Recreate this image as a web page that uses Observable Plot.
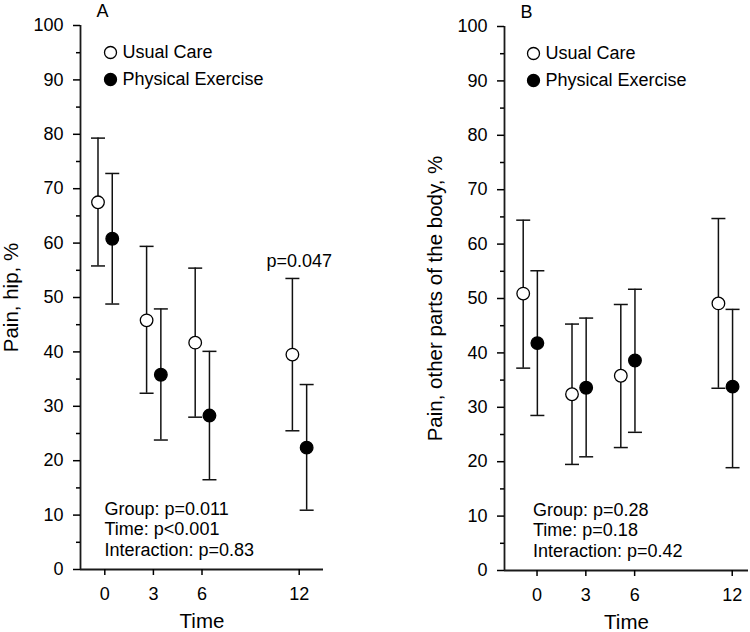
<!DOCTYPE html>
<html><head><meta charset="utf-8">
<script src="https://cdn.jsdelivr.net/npm/d3@7"></script>
<script src="https://cdn.jsdelivr.net/npm/@observablehq/plot@0.6"></script>
<style>
html,body{margin:0;padding:0;background:#fff;}
#row{display:flex;width:750px;height:632px;overflow:hidden;}
#row svg{display:block;flex:none;}
#row svg text{font-size:18px;}
#row svg g[aria-label="x-axis label"] text,
#row svg g[aria-label="y-axis label"] text{font-size:20.5px;}
</style></head><body><div id="row"></div>
<script>
// ---- data ----
const times = [0, 3, 6, 12];
const groups = ["Usual Care", "Physical Exercise"];
const yMajorTicks = [0, 10, 20, 30, 40, 50, 60, 70, 80, 90, 100];
const yMinorTicks = [5, 15, 25, 35, 45, 55, 65, 75, 85, 95];

// Panel A: Pain, hip (%)
const hipUCMean = [67.5, 45.8, 41.7, 39.5];
const hipUCLow  = [55.8, 32.4, 28.0, 25.5];
const hipUCHigh = [79.3, 59.4, 55.4, 53.5];
const hipPEMean = [60.8, 35.8, 28.3, 22.4];
const hipPELow  = [48.8, 23.8, 16.5, 10.9];
const hipPEHigh = [72.8, 47.9, 40.1, 34.0];
const hipStats = ["Group: p=0.011", "Time: p<0.001", "Interaction: p=0.83"];
const hipNote = [{time: 12, value: 56.6, label: "p=0.047"}];

// Panel B: Pain, other parts of the body (%)
const otherUCMean = [50.9, 32.4, 35.8, 49.1];
const otherUCLow  = [37.2, 19.5, 22.6, 33.5];
const otherUCHigh = [64.4, 45.3, 48.9, 64.7];
const otherPEMean = [41.8, 33.6, 38.6, 33.8];
const otherPELow  = [28.5, 20.9, 25.4, 18.9];
const otherPEHigh = [55.1, 46.4, 51.7, 48.0];
const otherStats = ["Group: p=0.28", "Time: p=0.18", "Interaction: p=0.42"];

// ---- drawing ----
const FONT = "'Liberation Sans', Arial, Helvetica, sans-serif";
const capSymbol = {draw(ctx) { ctx.moveTo(-7, 0); ctx.lineTo(7, 0); }};

function buildRows(series) {
  const rows = [];
  series.forEach(({group, mean, low, high}) => {
    times.forEach((t, i) => rows.push({time: t, group, mean: mean[i], low: low[i], high: high[i]}));
  });
  return rows;
}

function panel(cfg) {
  const rows = buildRows(cfg.series);
  const xOf = d => d.time + cfg.offset[d.group];
  const marks = [
    Plot.ruleX([cfg.xDomain[0]], {stroke: "#1a1a1a", strokeWidth: 1.8}),
    Plot.ruleY([0], {stroke: "#1a1a1a", strokeWidth: 1.8}),
    Plot.axisY({ticks: yMajorTicks, tickSize: 7, tickPadding: 10, strokeWidth: 1.5, fontSize: 18,
      label: cfg.yLabel, labelAnchor: "center", labelArrow: "none", labelOffset: 77, fill: "black"}),
    Plot.axisY({ticks: yMinorTicks, tickSize: 4, tickFormat: () => "", label: null, strokeWidth: 1.5}),
    Plot.axisX({ticks: times, tickSize: 6, tickPadding: 12, strokeWidth: 1.5, fontSize: 18,
      label: "Time", labelAnchor: "center", labelArrow: "none", labelOffset: 58, fill: "black"}),
    // error bars
    Plot.ruleX(rows, {x: xOf, y1: "low", y2: "high", stroke: "#111", strokeWidth: 1.5}),
    Plot.dot(rows, {x: xOf, y: "low", symbol: capSymbol, r: 7, stroke: "#111", strokeWidth: 1.5, fill: "none"}),
    Plot.dot(rows, {x: xOf, y: "high", symbol: capSymbol, r: 7, stroke: "#111", strokeWidth: 1.5, fill: "none"}),
    // means
    Plot.dot(rows, {x: xOf, y: "mean", r: 6.3, stroke: "black", strokeWidth: 1.3,
      fill: d => d.group === groups[0] ? "white" : "black"}),
    // panel letter
    Plot.text([cfg.letter], {frameAnchor: "top-left", dx: 22, dy: -14.5, lineAnchor: "middle",
      textAnchor: "middle", fill: "black"}),
    // stats
    Plot.text([cfg.stats.join("\n")], {frameAnchor: "bottom-left", dx: cfg.statsDx, dy: -41,
      textAnchor: "start", lineAnchor: "middle", lineHeight: 1.14, fill: "black"})
  ];
  // legend
  groups.forEach((g, i) => {
    marks.push(Plot.dot([g], {frameAnchor: "top-left", dx: cfg.legendDx, dy: 27 + i * 27, r: 6,
      stroke: "black", strokeWidth: 1.3, fill: i === 0 ? "white" : "black"}));
    marks.push(Plot.text([g], {frameAnchor: "top-left", dx: cfg.legendDx + 12, dy: 27 + i * 27,
      textAnchor: "start", lineAnchor: "middle", fill: "black"}));
  });
  if (cfg.notes) {
    marks.push(Plot.text(cfg.notes, {x: "time", y: "value", text: "label", lineAnchor: "middle",
      textAnchor: "middle", fill: "black"}));
  }
  return Plot.plot({
    width: 375, height: 632,
    marginLeft: cfg.marginLeft, marginRight: cfg.marginRight,
    marginTop: cfg.marginTop, marginBottom: cfg.marginBottom,
    style: {fontFamily: FONT, fontSize: "18px", color: "black", background: "white", overflow: "visible"},
    x: {domain: cfg.xDomain},
    y: {domain: [0, 100]},
    marks
  });
}

const row = document.getElementById("row");
row.appendChild(panel({
  letter: "A", yLabel: "Pain, hip, %",
  xDomain: [-1.5, 13.5], offset: {"Usual Care": -0.42, "Physical Exercise": 0.46},
  marginLeft: 80, marginRight: 52, marginTop: 25, marginBottom: 63,
  statsDx: 24, legendDx: 30, stats: hipStats, notes: hipNote,
  series: [
    {group: groups[0], mean: hipUCMean, low: hipUCLow, high: hipUCHigh},
    {group: groups[1], mean: hipPEMean, low: hipPELow, high: hipPEHigh}
  ]
}));
row.appendChild(panel({
  letter: "B", yLabel: "Pain, other parts of the body, %",
  xDomain: [-2, 13], offset: {"Usual Care": -0.85, "Physical Exercise": 0.02},
  marginLeft: 129, marginRight: 2, marginTop: 26, marginBottom: 62,
  statsDx: 28.5, legendDx: 29, stats: otherStats,
  series: [
    {group: groups[0], mean: otherUCMean, low: otherUCLow, high: otherUCHigh},
    {group: groups[1], mean: otherPEMean, low: otherPELow, high: otherPEHigh}
  ]
}));
</script></body></html>
